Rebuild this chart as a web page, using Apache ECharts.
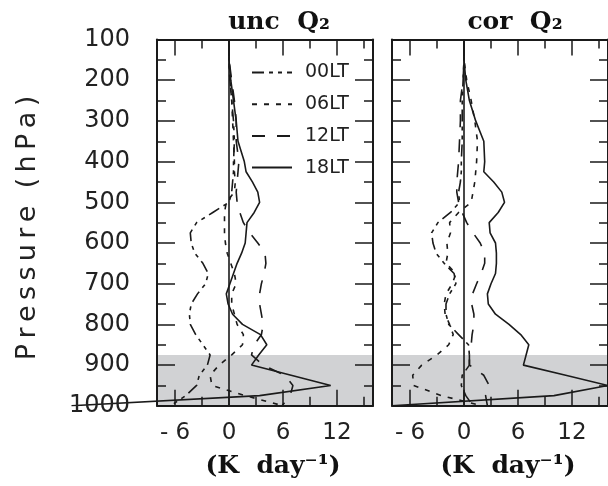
<!DOCTYPE html>
<html>
<head>
<meta charset="utf-8">
<script src="https://cdn.jsdelivr.net/npm/echarts@6/dist/echarts.min.js"></script>
<style>
  html, body { margin: 0; padding: 0; background: #fff; }
  #chart { width: 608px; height: 486px; }
</style>
</head>
<body>
<div id="chart"></div>
<script>
// pressure levels (hPa)
var levels = [100,150,200,250,300,350,400,425,450,475,500,525,550,575,600,625,650,675,700,725,750,775,800,825,850,875,900,925,950,975,1000];

// unc Q2 (K/day)
var unc00 = [0,0,0.1,0.3,0.5,0.6,0.5,0.5,0.4,0.3,0,-1.8,-3.6,-4.3,-4.2,-3.8,-2.9,-2.3,-2.6,-3.5,-4.2,-4.4,-4.3,-3.7,-2.9,-2.1,-2.4,-3.3,-3.6,-4.8,-6.5];
var unc06 = [0,0,0.1,0.3,0.4,0.5,0.6,0.6,0.7,0.6,-0.3,-0.5,-0.5,-0.5,-0.4,-0.2,0.2,0.6,0.8,0.3,0.3,0.6,0.9,1.6,1.5,0.3,-1.1,-2.1,-1.9,1.8,6];
var unc12 = [0,0,0.3,0.6,0.8,0.8,1.1,1.0,0.9,0.8,0.9,1.2,1.6,2.3,3.2,4.0,4.1,3.9,3.6,3.4,3.4,3.6,3.8,3.6,2.8,2.5,3.8,6.2,7.1,6.8,5.9];
var unc18 = [0,0,0.2,0.5,0.8,1.0,1.7,1.9,2.6,3.2,3.4,2.8,2.0,1.9,1.8,1.4,0.9,0.5,0.1,-0.3,-0.1,0.4,1.5,3.5,4.2,3.3,2.5,6.9,11.3,3.4,-17.5];

// cor Q2 (K/day)
var cor00 = [0,0,-0.1,-0.2,-0.2,-0.2,-0.3,-0.3,-0.4,-0.6,-0.5,-1.5,-2.9,-3.6,-3.45,-3.1,-2.2,-1.1,-0.9,-1.6,-2.0,-2.0,-1.7,-0.6,0.5,0.6,0.6,-0.2,-0.3,0.2,1.0];
var cor06 = [0,0,0.3,0.8,1.2,1.5,1.4,1.3,1.2,1.0,0.8,-0.6,-1.6,-1.5,-1.9,-1.8,-2.0,-0.9,-1.3,-2.0,-2.2,-2.1,-1.6,-1.2,-1.7,-3.0,-4.7,-5.7,-5.6,-2.5,2.0];
var cor12 = [0,0,-0.1,-0.4,-0.4,-0.5,-0.6,-0.7,-0.8,-0.8,-0.6,-0.2,0.3,1.0,1.8,2.3,2.3,1.9,1.4,0.95,0.85,1.1,1.1,0.9,0.8,0.6,0.6,2.2,2.8,2.4,2.6];
var cor18 = [0,0,0.2,0.6,1.3,2.2,2.3,2.2,3.3,4.2,4.5,3.8,2.8,2.9,3.5,3.6,3.6,3.5,3.0,2.6,2.7,3.5,5.0,6.3,7.2,6.9,6.6,11.3,16,10,-8];

var names = ['00LT', '06LT', '12LT', '18LT'];
var xMajor = [-6, 0, 6, 12];
var xMinor = [-3, 3, 9, 15];
var pblTop = 875;

var ink = '#1a1a1a';
var dashes = {
    '00LT': [12, 5, 4, 5, 4, 5],
    '06LT': [5, 7],
    '12LT': [13, 12],
    '18LT': 'solid'
};

function pairs(vals) {
    return levels.map(function (p, i) { return [vals[i], p]; });
}

function xAxes(g, labels) {
    var list = [];
    ['bottom', 'top'].forEach(function (pos) {
        [true, false].forEach(function (major) {
            list.push({
                type: 'value', gridIndex: g, position: pos, min: -8, max: 16, z: 10,
                splitLine: { show: false },
                axisLine: { show: major, onZero: false, lineStyle: { color: ink, width: 2 } },
                axisTick: { show: true, inside: true, length: major ? 16 : 9,
                    customValues: major ? xMajor : xMinor,
                    lineStyle: { color: ink, width: 1.5 } },
                axisLabel: { show: labels && major && pos === 'bottom', customValues: xMajor,
                    margin: 16, fontSize: 23, fontFamily: 'DejaVu Sans', color: '#222',
                    formatter: function (v) { return v < 0 ? '- ' + Math.abs(v) : '' + v; } }
            });
        });
    });
    return list;
}

function yAxes(g, labels) {
    return ['left', 'right'].map(function (pos) {
        return {
            type: 'value', gridIndex: g, position: pos, inverse: true,
            min: 100, max: 1000, interval: 100, z: 10,
            splitLine: { show: false },
            axisLine: { show: true, onZero: false, lineStyle: { color: ink, width: 2 } },
            axisTick: { show: true, inside: true, length: 18, lineStyle: { color: ink, width: 1.5 } },
            minorTick: { show: true, splitNumber: 2, length: 9, lineStyle: { color: ink, width: 1.5 } },
            axisLabel: { show: labels && pos === 'left', margin: 27, fontSize: 24,
                fontFamily: 'DejaVu Sans', color: '#222',
                formatter: function (v) { return '' + v; } }
        };
    });
}

// xi/yi: axes of the panel; solidX/solidY: axes used by the solid 18LT curve
function panel(xi, yi, solidX, solidY, sets) {
    var out = [{
        type: 'line', xAxisIndex: xi, yAxisIndex: yi, data: [], z: 1, silent: true,
        markArea: { silent: true, itemStyle: { color: '#d1d2d4' },
            data: [[{ yAxis: pblTop }, { yAxis: 1000 }]] }
    }];
    names.forEach(function (n, k) {
        var s = {
            name: n, type: 'line', z: 3,
            xAxisIndex: k === 3 ? solidX : xi,
            yAxisIndex: k === 3 ? solidY : yi,
            symbol: 'none', smooth: false,
            lineStyle: { color: ink, width: 1.6, type: dashes[n] },
            itemStyle: { color: ink },
            data: pairs(sets[k])
        };
        if (k === 3) {
            s.markLine = { silent: true, symbol: ['none', 'none'], label: { show: false },
                lineStyle: { color: ink, width: 1.6, type: 'solid' },
                data: [{ xAxis: 0 }] };
        }
        out.push(s);
    });
    return out;
}

var textFont = 'bold 25px "DejaVu Serif"';
var ts = '\u2009';

var option = {
    animation: false,
    backgroundColor: '#fff',
    grid: [
        { left: 157, top: 39.5, width: 216, height: 366.3 },
        { left: 392, top: 39.5, width: 218, height: 366.3 },
        // same scale as the left panel, widened so the surface value of 18LT shows
        { left: 67, top: 39.5, width: 306, height: 366.3 }
    ],
    xAxis: xAxes(0, true).concat(xAxes(1, true)).concat([
        { type: 'value', gridIndex: 2, min: -18, max: 16, show: false }
    ]),
    yAxis: yAxes(0, true).concat(yAxes(1, false)).concat([
        { type: 'value', gridIndex: 2, inverse: true, min: 100, max: 1000, show: false }
    ]),
    legend: {
        data: names, orient: 'vertical', left: 246, top: 58,
        itemWidth: 40, itemHeight: 18, itemGap: 12.7,
        selectedMode: false,
        itemStyle: { opacity: 0 },
        textStyle: { fontSize: 19, fontFamily: 'DejaVu Sans', color: '#222', padding: [0, 0, 0, 8] }
    },
    graphic: [
        { type: 'text', x: 279, y: 22, style: { text: 'unc  Q\u2082', font: textFont, fill: '#111', textAlign: 'center', textVerticalAlign: 'middle' } },
        { type: 'text', x: 515, y: 22, style: { text: 'cor  Q\u2082', font: textFont, fill: '#111', textAlign: 'center', textVerticalAlign: 'middle' } },
        { type: 'text', x: 273, y: 466, style: { text: '(K  day\u207b\u00b9)', font: textFont, fill: '#111', textAlign: 'center', textVerticalAlign: 'middle' } },
        { type: 'text', x: 508, y: 466, style: { text: '(K  day\u207b\u00b9)', font: textFont, fill: '#111', textAlign: 'center', textVerticalAlign: 'middle' } },
        { type: 'text', x: 28, y: 228, rotation: Math.PI / 2,
          style: { text: 'Pressure'.split('').join(ts) + '  ' + '(hPa)'.split('').join(ts),
                   font: '27px "DejaVu Sans"', fill: '#222', textAlign: 'center', textVerticalAlign: 'middle' } }
    ],
    series: panel(0, 0, 8, 4, [unc00, unc06, unc12, unc18]).concat(panel(4, 2, 4, 2, [cor00, cor06, cor12, cor18]))
};

var chart = echarts.init(document.getElementById('chart'), null, { renderer: 'canvas' });
chart.setOption(option);
</script>
</body>
</html>
